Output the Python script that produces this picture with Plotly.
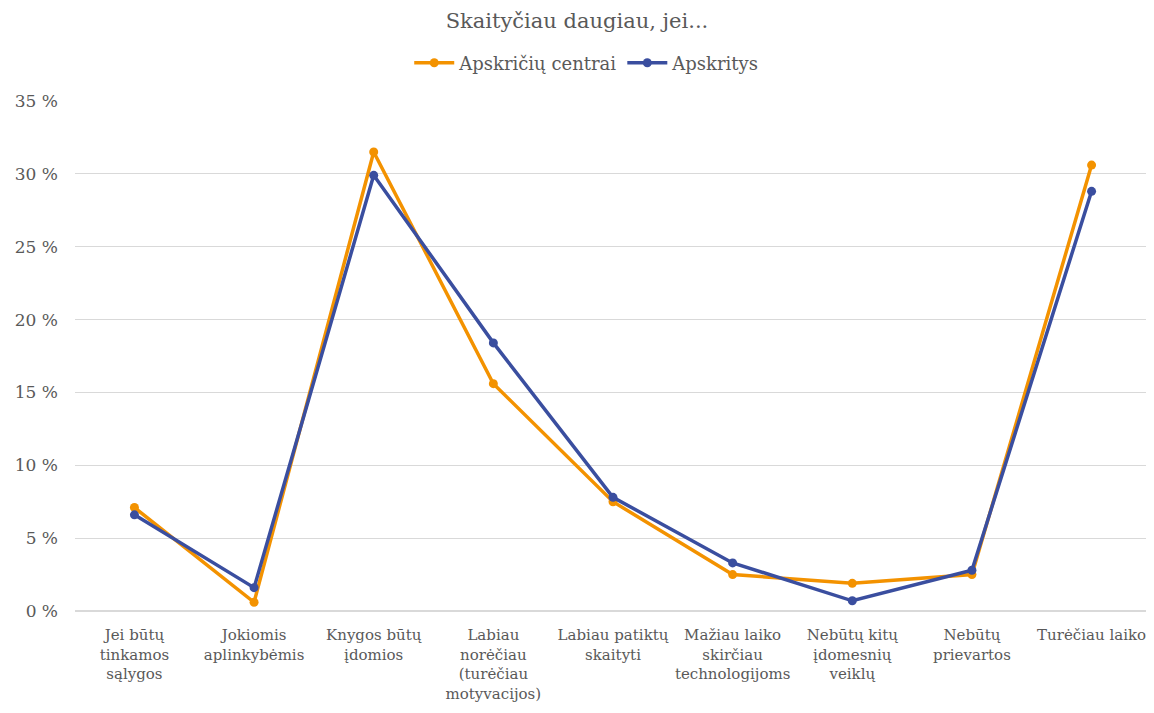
import plotly.graph_objects as go

categories = [
    "Jei būtų<br>tinkamos<br>sąlygos",
    "Jokiomis<br>aplinkybėmis",
    "Knygos būtų<br>įdomios",
    "Labiau<br>norėčiau<br>(turėčiau<br>motyvacijos)",
    "Labiau patiktų<br>skaityti",
    "Mažiau laiko<br>skirčiau<br>technologijoms",
    "Nebūtų kitų<br>įdomesnių<br>veiklų",
    "Nebūtų<br>prievartos",
    "Turėčiau laiko",
]
apskriciu_centrai = [7.1, 0.6, 31.5, 15.6, 7.5, 2.5, 1.9, 2.5, 30.6]
apskritys = [6.6, 1.6, 29.9, 18.4, 7.8, 3.3, 0.7, 2.8, 28.8]

FONT = "DejaVu Serif"
TXT = "#595959"

fig = go.Figure()
fig.add_trace(go.Scatter(
    x=categories, y=apskriciu_centrai, name="Apskričių centrai",
    mode="lines+markers", line=dict(color="#F39200", width=3.5),
    marker=dict(size=9, color="#F39200"),
))
fig.add_trace(go.Scatter(
    x=categories, y=apskritys, name="Apskritys",
    mode="lines+markers", line=dict(color="#3A4E9F", width=3.5),
    marker=dict(size=9, color="#3A4E9F"),
))

W, H = 1146, 705
fig.update_layout(
    width=W, height=H,
    margin=dict(l=67, r=3, t=93, b=102),
    paper_bgcolor="white", plot_bgcolor="white",
    font=dict(family=FONT, color=TXT, size=15),
    title=dict(text="Skaityčiau daugiau, jei...",
               x=0.4965, xanchor="center", y=1 - 13 / H, yanchor="middle",
               font=dict(family=FONT, size=21, color=TXT)),
    legend=dict(orientation="h", x=0.505, xanchor="center", xref="container",
                y=1 - 55 / H, yanchor="middle", yref="container",
                font=dict(family=FONT, size=18, color=TXT), itemwidth=40,
                traceorder="normal"),
    showlegend=True,
)
fig.update_xaxes(type="category", showgrid=False, showline=False, zeroline=False,
                 ticks="", tickfont=dict(family=FONT, size=15, color=TXT),
                 ticklabelstandoff=13)
fig.update_yaxes(range=[0, 35], dtick=5, ticksuffix=" %", showgrid=True,
                 gridcolor="#D9D9D9", gridwidth=1, zeroline=True, zerolinecolor="#D9D9D9",
                 showline=False, ticks="", tickfont=dict(family=FONT, size=17, color=TXT),
                 ticklabelstandoff=16)

fig.write_html("out.html")
